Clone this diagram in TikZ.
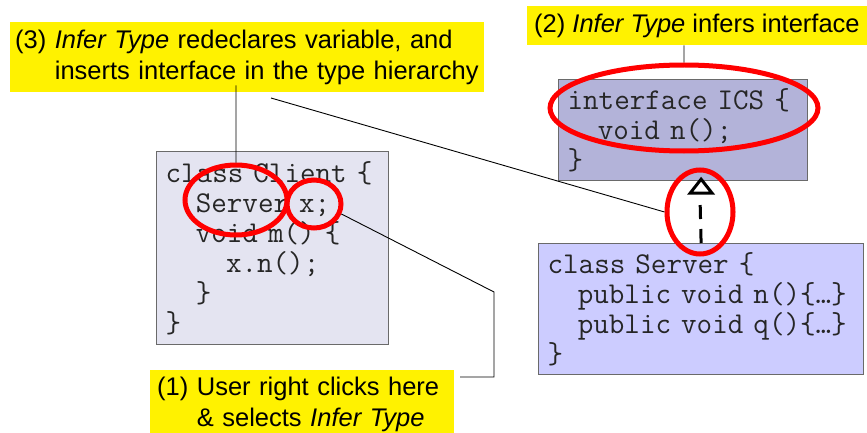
\documentclass[tikz,border=0pt]{standalone}
\usepackage{fontspec}
\setmainfont{Liberation Sans}
\usetikzlibrary{shapes.geometric, arrows.meta}
\definecolor{clientfill}{HTML}{E4E4F1}
\definecolor{icsfill}{HTML}{B3B3D9}
\definecolor{serverfill}{HTML}{CCCCFF}
\definecolor{edgegray}{HTML}{6A6A6A}
\newcommand*{\infer}{\textit{Infer Type}}
\newcommand*{\codetab}{\hspace*{1.0em}}

\begin{document}
\begin{tikzpicture}[x=1pt, y=-1pt]
      \useasboundingbox (0,0) rectangle (867,433);

      {\tikzstyle{every node}=[draw=edgegray, line width=1.2pt, anchor=north west,
          align=left, inner xsep=9pt, inner ysep=6pt, text=black!85,
          font=\ttfamily\fontsize{30.2}{30}\selectfont]
        \node[fill=clientfill, text width=214pt, minimum height=193pt] (client) at (156,151)
          {class Client \{\\ \codetab Server x;\\ \codetab void m() \{\\
           \codetab\codetab x.n();\\ \codetab\}\\ \}};
        \node[fill=icsfill, text width=231pt, minimum height=101pt] (ics) at (558,79)
          {interface ICS \{\\ \codetab void n();\\ \}};
        \node[fill=serverfill, text width=307pt, minimum height=131pt] (server) at (538,243)
          {class Server \{\\ \codetab public void n()\{…\}\\ \codetab public void q()\{…\}\\ \}};
      }

      {\tikzstyle{every node}=[fill=yellow, anchor=north west, align=left,
          inner xsep=5pt, inner ysep=0pt, font=\fontsize{25.5}{31}\selectfont]
        \node[text width=464pt, minimum height=70pt] (lab3) at (10,22)
          {(3) \infer{} redeclares variable, and\\ \phantom{(3) }inserts interface in the type hierarchy};
        \node[inner xsep=7pt, minimum height=39pt] (lab2) at (527,6)
          {(2) \infer{} infers interface};
        \node[inner xsep=7pt, text width=290pt, minimum height=68pt] (lab1) at (150,370)
          {(1) User right clicks here\\ \phantom{(1) }\& selects \infer};
      }

      % realization arrow, Server up to ICS
      \coordinate (arrbase) at (700,197);
      \draw [line width=3pt, dash pattern=on 14pt off 10pt]
        (server.north) -- (arrbase);
      \draw [line width=3pt, line join=miter, fill=white]
        ([yshift=2pt]server.north |- ics.south) -- ++(-11,14) -- ++(22,0) -- cycle;

      {\tikzstyle{every node}=[ellipse, draw=red, line width=5pt, inner sep=0pt]
        \node[minimum width=102pt, minimum height=70pt] (srvring) at (236,200) {};
        \node[minimum width=54pt, minimum height=48pt] (xring) at (314,204) {};
        \node[minimum width=268pt, minimum height=86pt] (icsring) at (684,108) {};
        \node[minimum width=66pt, minimum height=84pt] (arrring) at (700,212) {};
      }

      \coordinate (lab3foot) at (271,98);
      \coordinate (bend) at (494,292);
      \coordinate (lab1tip) at (460,377);

      \draw [line width=0.9pt]
        (icsring.north |- lab2.south) -- (icsring.north)
        ([yshift=7pt]srvring.north |- lab3.south) -- (srvring.north)
        (lab3foot) -- (arrring.west)
        (xring.-20) -- (bend) -- (bend |- lab1tip) -- (lab1tip);
    \end{tikzpicture}
\end{document}
